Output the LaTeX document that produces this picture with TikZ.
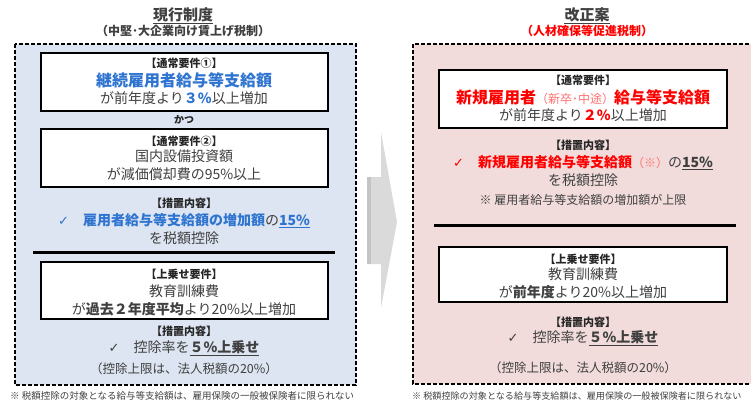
\documentclass[tikz,border=0pt]{standalone}
\usepackage{fontspec}
\setmainfont{Noto Sans CJK JP}
\newfontfamily\symfont{DejaVu Sans}
\definecolor{txt}{HTML}{404040}
\definecolor{jblue}{HTML}{2E74D0}
\definecolor{jred}{HTML}{FF0000}
\definecolor{lred}{HTML}{FF7070}
\definecolor{lbg}{HTML}{DCE5F1}
\definecolor{rbg}{HTML}{F2DCDB}
\definecolor{arrgray}{HTML}{DADADA}
\definecolor{arrdark}{HTML}{C4C4C4}
\newcommand{\fs}[1]{\fontsize{#1bp}{#1bp}\selectfont}
\newcommand{\chk}{{\symfont\fs{13}✓}}
\begin{document}
\begin{tikzpicture}[x=1bp,y=-1bp,
  lbl/.style={font=\bfseries\fs{11}, text=black!85, inner sep=0},
  main/.style={font=\fs{14}, text=txt, inner sep=0},
  big/.style={font=\bfseries\fs{16}, inner sep=0},
  title/.style={font=\bfseries\fs{15}, text=txt, inner sep=0},
  sub/.style={font=\bfseries\fs{12}, inner sep=0},
  foot/.style={font=\fs{9.5}, text=txt, inner sep=0, anchor=west},
  innerbox/.style={draw=black, line width=2bp, fill=white},
  dashbox/.style={draw=black, line width=1.6bp, dash pattern=on 4bp off 2bp},
  sepline/.style={line width=3bp, black}]
\useasboundingbox (0,0) rectangle (751,403);
% ---------- left panel ----------
\node[title] (lt) at (183,15) {現行制度};
\draw[txt, line width=0.8bp] ([yshift=-1.5bp]lt.south west) -- ([yshift=-1.5bp]lt.south east);
\node[sub, text=txt] (lst) at (183,31) {（中堅･大企業向け賃上げ税制）};
\draw[dashbox, fill=lbg] (15,44) rectangle (356,385);
\draw[innerbox] (41,53) rectangle (328,111);
\node[lbl] (l1a) at (184,63) {【通常要件①】};
\node[big, text=jblue] (l1b) at (184,80) {継続雇用者給与等支給額};
\node[main] (l1c) at (184,98) {が前年度より\textcolor{jblue}{\textbf{３\%}}以上増加};
\node[lbl, font=\bfseries\fs{10}] (lk) at (184,120) {かつ};
\draw[innerbox] (41,129) rectangle (328,187);
\node[lbl] (l2a) at (184,141) {【通常要件②】};
\node[main] (l2b) at (184,156) {国内設備投資額};
\node[main] (l2c) at (184,174) {が減価償却費の95\%以上};
\node[lbl] (l3a) at (184,203) {【措置内容】};
\node[main] (l3b) at (184,221) {\textcolor{jblue}{\chk}\hspace{1em}\textcolor{jblue}{\textbf{雇用者給与等支給額の増加額}}の\textcolor{jblue}{\underline{\textbf{15\%}}}};
\node[main] (l3c) at (184,238) {を税額控除};
\draw[sepline] (33,252) -- (335,252);
\draw[innerbox] (41,262) rectangle (328,319);
\node[lbl] (l4a) at (184,274) {【上乗せ要件】};
\node[main] (l4b) at (184,291) {教育訓練費};
\node[main] (l4c) at (184,309) {が\textbf{過去２年度平均}より20\%以上増加};
\node[lbl] (l5a) at (184,331) {【措置内容】};
\node[main] (l5b) at (184,348) {\textcolor{txt}{\chk}\hspace{1em}控除率を\underline{\textbf{５\%上乗せ}}};
\node[main, font=\fs{12.5}] (l5c) at (184,369) {（控除上限は、法人税額の20\%）};
\node[foot] (lf) at (10,396) {※ 税額控除の対象となる給与等支給額は、雇用保険の一般被保険者に限られない};
% ---------- middle arrow ----------
\fill[arrgray] (367,177) -- (381,177) -- (381,132) -- (397,222) -- (381,308) -- (381,264) -- (367,264) -- cycle;
\fill[arrdark] (367,177) rectangle (371,264);
% ---------- right panel ----------
\node[title] (rt) at (587,15) {改正案};
\draw[txt, line width=0.8bp] ([yshift=-1.5bp]rt.south west) -- ([yshift=-1.5bp]rt.south east);
\node[sub, text=jred] (rst) at (587,31) {（人材確保等促進税制）};
\draw[dashbox, fill=rbg] (413,44) rectangle (775,384);
\draw[innerbox] (439,70) rectangle (727,128);
\node[lbl] (r1a) at (583,80) {【通常要件】};
\node[big, text=jred] (r1b) at (583,97) {新規雇用者{\mdseries\fs{12}\textcolor{lred}{（新卒･中途）}}給与等支給額};
\node[main] (r1c) at (583,115) {が前年度より\textcolor{jred}{\textbf{２\%}}以上増加};
\node[lbl] (r2a) at (583,145) {【措置内容】};
\node[main] (r2b) at (583,163) {\textcolor{jred}{\chk}\hspace{1em}\textcolor{jred}{\textbf{新規雇用者給与等支給額}}{\fs{12}\textcolor{lred}{（※）}}の\underline{\textbf{15\%}}};
\node[main] (r2c) at (583,180) {を税額控除};
\node[main, font=\fs{12}] (r2d) at (583,200) {※ 雇用者給与等支給額の増加額が上限};
\draw[sepline] (434,225) -- (736,225);
\draw[innerbox] (439,247) rectangle (727,302);
\node[lbl] (r3a) at (583,259) {【上乗せ要件】};
\node[main] (r3b) at (583,274) {教育訓練費};
\node[main] (r3c) at (583,292) {が\textbf{前年度}より20\%以上増加};
\node[lbl] (r4a) at (583,322) {【措置内容】};
\node[main] (r4b) at (583,338) {\textcolor{txt}{\chk}\hspace{1em}控除率を\underline{\textbf{５\%上乗せ}}};
\node[main, font=\fs{12.5}] (r4c) at (583,368) {（控除上限は、法人税額の20\%）};
\node[foot, font=\fs{9.1}] (rf) at (412,396) {※ 税額控除の対象となる給与等支給額は、雇用保険の一般被保険者に限られない};
\end{tikzpicture}
\end{document}
